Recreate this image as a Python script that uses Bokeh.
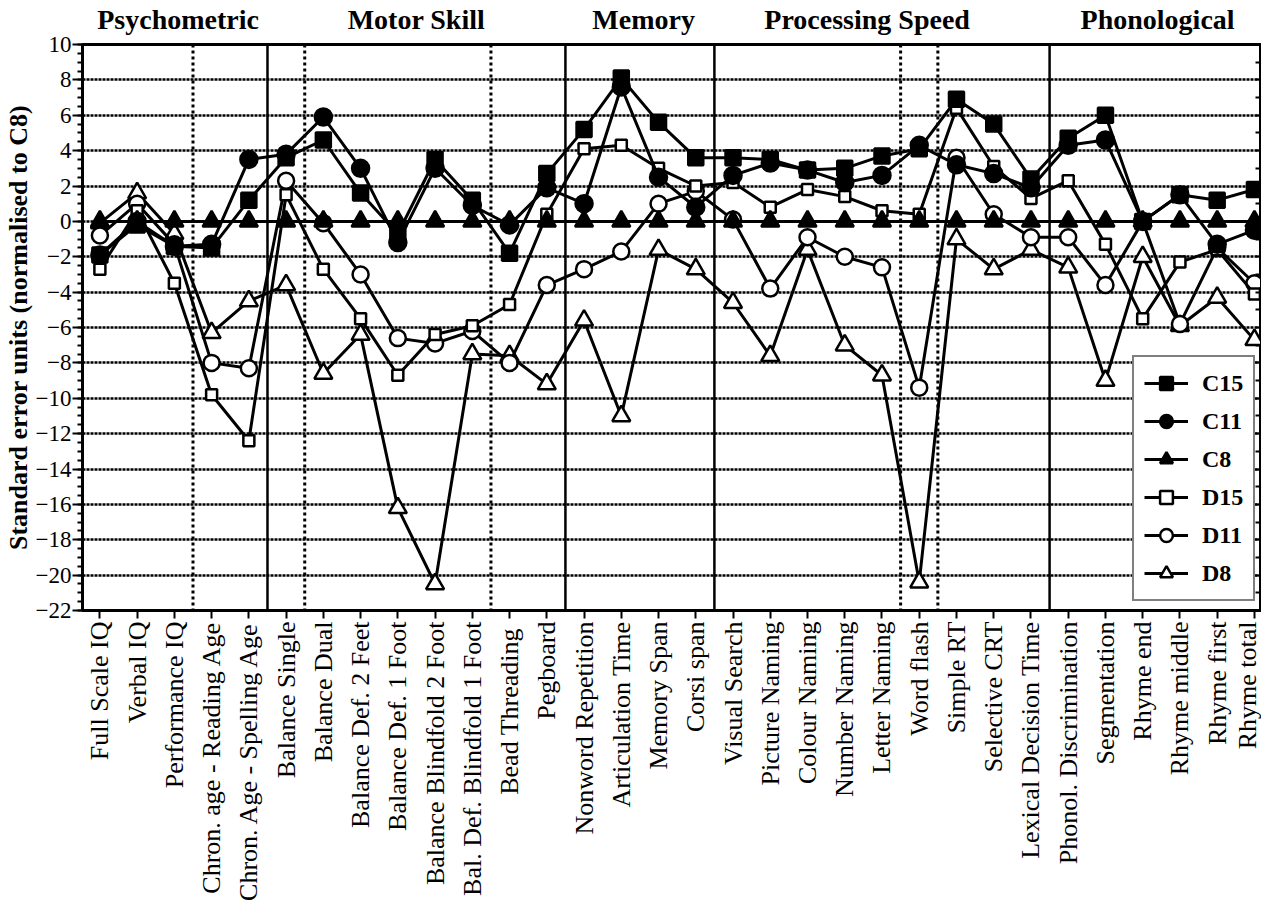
import math
from bokeh.plotting import figure
from bokeh.models import (Range1d, FixedTicker, SingleIntervalTicker, LinearAxis,
                          Span, Legend, LegendItem)
from bokeh.embed import file_html
from bokeh.resources import INLINE

# ---------------- data ----------------
categories = [
    "Full Scale IQ", "Verbal IQ", "Performance IQ", "Chron. age - Reading Age",
    "Chron. Age - Spelling Age",
    "Balance Single", "Balance Dual", "Balance Def. 2 Feet", "Balance Def. 1 Foot",
    "Balance Blindfold 2 Foot", "Bal. Def. Blindfold 1 Foot", "Bead  Threading", "Pegboard",
    "Nonword Repetition", "Articulation Time", "Memory Span", "Corsi span",
    "Visual Search", "Picture Naming", "Colour Naming", "Number Naming", "Letter Naming",
    "Word flash", "Simple RT", "Selective CRT", "Lexical Decision Time",
    "Phonol. Discrimination", "Segmentation", "Rhyme end", "Rhyme middle",
    "Rhyme first", "Rhyme total",
]
groups = ["Psychometric", "Motor Skill", "Memory", "Processing Speed", "Phonological"]
group_sizes = [5, 8, 4, 9, 6]
dotted_after = ["Performance IQ", "Balance Single", "Bal. Def. Blindfold 1 Foot",
                "Letter Naming", "Word flash"]

C15 = [-1.9, -0.2, -1.4, -1.5, 1.2,
       3.6, 4.6, 1.6, -0.7, 3.5, 1.2, -1.8, 2.7,
       5.2, 8.1, 5.6, 3.6,
       3.6, 3.5, 2.9, 3.0, 3.7, 4.1, 6.9, 5.5, 2.4,
       4.7, 6.0, 0.0, 1.5, 1.2, 1.8]
C11 = [-1.9, 0.0, -1.4, -1.3, 3.5,
       3.8, 5.9, 3.0, -1.2, 3.0, 0.9, -0.2, 1.9,
       1.0, 7.6, 2.5, 0.8,
       2.6, 3.3, 2.9, 2.2, 2.6, 4.3, 3.2, 2.7, 1.9,
       4.3, 4.6, 0.0, 1.5, -1.3, -0.5]
C8 = [0.0] * 32
D15 = [-2.7, 0.6, -3.5, -9.8, -12.4,
       1.5, -2.7, -5.5, -8.7, -6.4, -5.9, -4.7, 0.4,
       4.1, 4.3, 3.0, 2.0,
       2.2, 0.8, 1.8, 1.4, 0.6, 0.4, 6.4, 3.1, 1.3,
       2.3, -1.3, -5.5, -2.3, -1.6, -4.1]
D11 = [-0.8, 1.0, -1.3, -8.0, -8.3,
       2.3, -0.1, -3.0, -6.6, -6.9, -6.2, -8.0, -3.6,
       -2.7, -1.7, 1.0, 1.7,
       0.1, -3.8, -0.9, -2.0, -2.6, -9.4, 3.6, 0.4, -0.9,
       -0.9, -3.6, 0.0, -5.8, -1.5, -3.5]
D8 = [-0.1, 1.6, -0.7, -6.3, -4.5,
      -3.6, -8.6, -6.4, -16.2, -20.5, -7.5, -7.6, -9.2,
      -5.6, -11.0, -1.6, -2.7,
      -4.6, -7.6, -1.6, -7.0, -8.7, -20.4, -1.0, -2.7, -1.6,
      -2.6, -9.0, -2.0, -5.9, -4.3, -6.7]

series_names = ["C15", "C11", "C8", "D15", "D11", "D8"]
series_values = [C15, C11, C8, D15, D11, D8]
y_title = "Standard error units (normalised to C8)"

# ---------------- styling ----------------
SERIF = "Liberation Serif"
marker_style = {
    "C15": dict(marker="square", size=15, fill_color="black"),
    "C11": dict(marker="circle", size=17, fill_color="black"),
    "C8": dict(marker="triangle", size=18, fill_color="black"),
    "D15": dict(marker="square", size=11, fill_color="white"),
    "D11": dict(marker="circle", size=16, fill_color="white"),
    "D8": dict(marker="triangle", size=18, fill_color="white"),
}
title_nudge = [0.1, 0.0, 0.1, -0.4, -0.1]   # horizontal shift of group titles (category units)

n = len(categories)
xs = list(range(n))

p = figure(width=1261, height=906,
           x_range=Range1d(-0.467, 31.19), y_range=Range1d(-22, 10),
           output_backend="svg", toolbar_location=None,
           min_border_left=66, min_border_right=0, min_border_top=35, min_border_bottom=296,
           background_fill_color="white", border_fill_color="white")

p.outline_line_color = "black"
p.outline_line_width = 3
p.xgrid.grid_line_color = None
p.ygrid.ticker = SingleIntervalTicker(interval=2)
p.ygrid.grid_line_color = "black"
p.ygrid.grid_line_width = 2.5
p.ygrid.grid_line_dash = "3 1"

# x axis (categories)
xa = p.xaxis[0]
xa.ticker = FixedTicker(ticks=xs)
xa.major_label_overrides = {i: c for i, c in enumerate(categories)}
xa.major_label_orientation = math.pi / 2
xa.major_label_text_font = SERIF
xa.major_label_text_font_size = "26px"
xa.major_label_text_color = "black"
xa.major_label_standoff = 3
xa.major_tick_out = 8
xa.major_tick_in = 0
xa.major_tick_line_width = 2
xa.minor_tick_line_color = None
xa.axis_line_width = 3

# top axis carrying the group titles
centers = []
start = 0
for size, nudge in zip(group_sizes, title_nudge):
    c = round(start + (size - 1) / 2 + nudge, 2)
    centers.append(int(c) if c == int(c) else c)
    start += size
ta = LinearAxis(ticker=FixedTicker(ticks=centers),
                major_label_overrides={c: g for c, g in zip(centers, groups)},
                major_label_text_font=SERIF, major_label_text_font_style="bold",
                major_label_text_font_size="28px", major_label_text_color="black",
                major_label_standoff=4, major_tick_line_color=None,
                minor_tick_line_color=None, axis_line_color=None)
p.add_layout(ta, "above")

# y axis
ya = p.yaxis[0]
ya.ticker = SingleIntervalTicker(interval=2, num_minor_ticks=4)
ya.major_label_text_font = SERIF
ya.major_label_text_font_size = "23px"
ya.major_label_text_color = "black"
ya.major_label_standoff = 1
ya.major_tick_out = 10
ya.major_tick_in = 0
ya.major_tick_line_width = 2
ya.minor_tick_out = 5
ya.minor_tick_in = 0
ya.minor_tick_line_width = 2
ya.axis_line_width = 3
ya.axis_label = y_title
ya.axis_label_text_font = SERIF
ya.axis_label_text_font_style = "bold"
ya.axis_label_text_font_size = "26px"
ya.axis_label_text_color = "black"
ya.axis_label_standoff = 0

# right axis: ticks only (every unit)
right_ticks = list(range(-22, 11))
ra = LinearAxis(ticker=FixedTicker(ticks=right_ticks),
                major_label_overrides={t: "" for t in right_ticks},
                major_label_standoff=0,
                major_tick_out=0, major_tick_in=6, major_tick_line_width=2,
                minor_tick_out=0, minor_tick_in=0, axis_line_width=3)
p.add_layout(ra, "right")

# separators
start = 0
for size in group_sizes[:-1]:
    start += size
    p.add_layout(Span(location=start - 0.5, dimension="height", line_color="black",
                      line_width=2.5))
for c in dotted_after:
    p.add_layout(Span(location=categories.index(c) + 0.5, dimension="height",
                      line_color="black", line_width=3, line_dash="3 3"))

# series
draw_order = ["D8", "D11", "D15", "C8", "C11", "C15"]
renderers = {}
for name in draw_order:
    vals = series_values[series_names.index(name)]
    ln = p.line(xs, vals, line_color="black", line_width=3)
    st = marker_style[name]
    sc = p.scatter(xs, vals, marker=st["marker"], size=st["size"],
                   fill_color=st["fill_color"], line_color="black", line_width=2.5)
    renderers[name] = [ln, sc]
items = [LegendItem(label=name, renderers=renderers[name]) for name in series_names]

legend = Legend(items=items, location=(1050, 9), border_line_color="black",
                border_line_width=2, background_fill_color="white", background_fill_alpha=1,
                label_text_font=SERIF, label_text_font_style="bold",
                label_text_font_size="24px", label_text_color="black",
                glyph_width=44, glyph_height=32, label_height=32, spacing=6,
                padding=10, label_standoff=14, margin=0)
p.add_layout(legend)

open("out.html", "w").write(file_html(p, INLINE))
